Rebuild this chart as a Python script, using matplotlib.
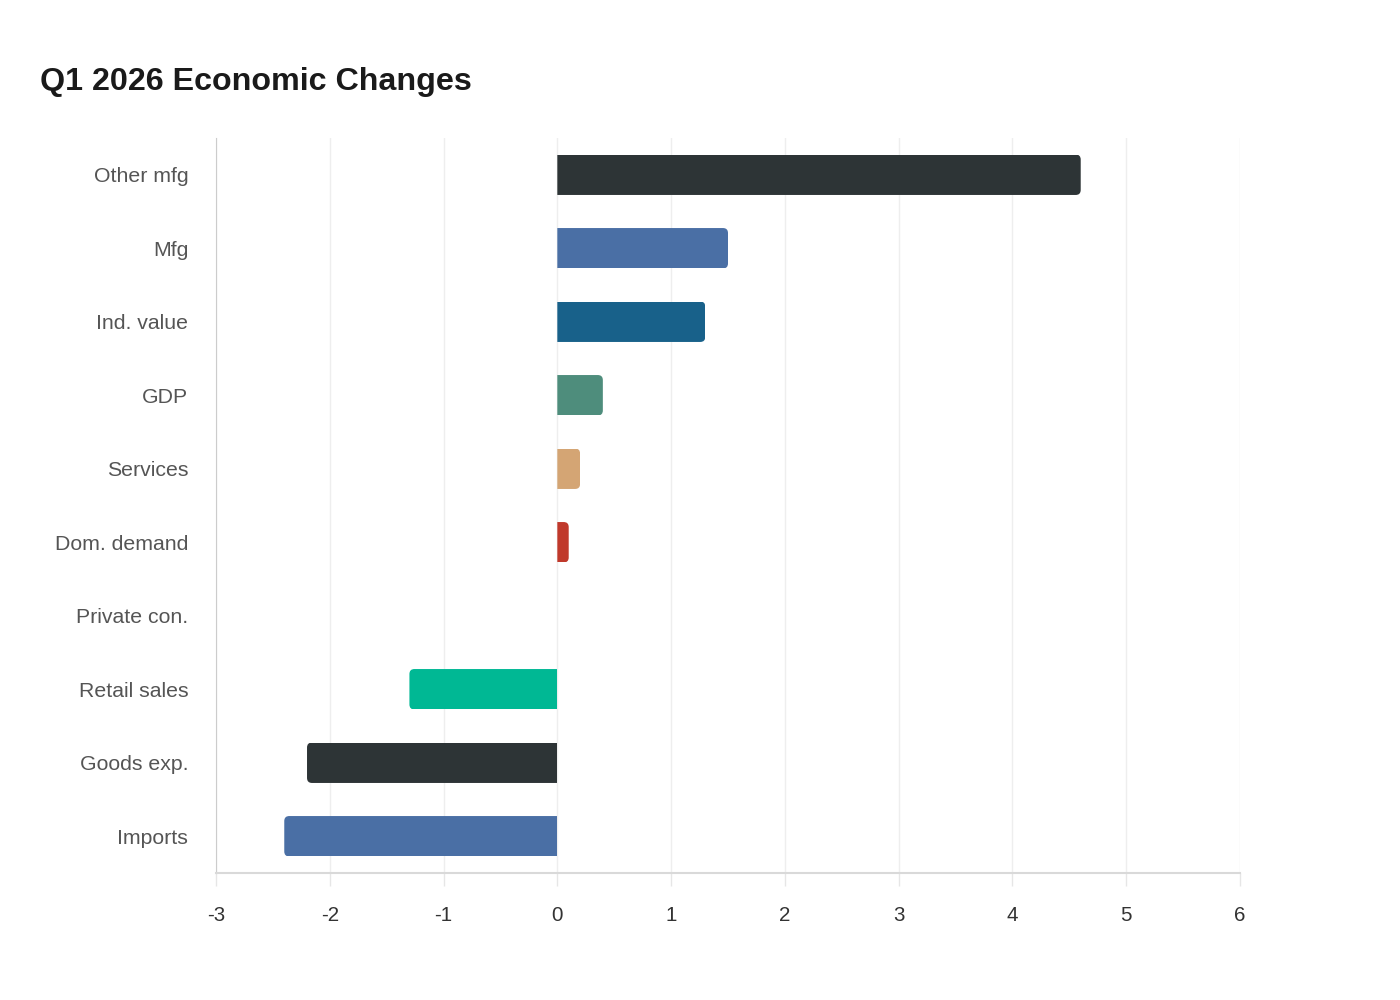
import matplotlib
matplotlib.use("Agg")
import matplotlib.pyplot as plt
from matplotlib.path import Path
from matplotlib.transforms import IdentityTransform

plt.rcParams['font.family'] = ['Liberation Sans', 'DejaVu Sans']

categories = ["Other mfg", "Mfg", "Ind. value", "GDP", "Services",
              "Dom. demand", "Private con.", "Retail sales", "Goods exp.", "Imports"]
values = [4.6, 1.5, 1.3, 0.4, 0.2, 0.1, 0.0, -1.3, -2.2, -2.4]
colors = ["#2d3436", "#4a6fa5", "#18618a", "#4e8d7c", "#d4a574",
          "#c0392b", "#6c5ce7", "#00b894", "#2d3436", "#4a6fa5"]
xticks = [-3, -2, -1, 0, 1, 2, 3, 4, 5, 6]
title = "Q1 2026 Economic Changes"

fig = plt.figure(figsize=(14, 10), dpi=100)
ax = fig.add_axes([216/1400, 1 - 873/1000, (1240-216)/1400, (873-138)/1000])

ypos = list(range(len(categories)))
bars = ax.barh(ypos, values, height=0.55, color=colors, zorder=3)
ax.set_ylim(len(categories) - 0.5, -0.5)
ax.set_xlim(xticks[0], xticks[-1])
ax.set_yticks(ypos)
ax.set_yticklabels(categories, fontsize=15.3, color="#555555")
ax.tick_params(axis='y', length=0, pad=20)
ax.set_xticks(xticks)
ax.set_xticklabels([str(t) for t in xticks], fontsize=14.8, color="#333333")
ax.tick_params(axis='x', length=9, width=1, color="#e6e6e6", pad=15)
ax.grid(axis='x', color="#eeeeee", linewidth=1, zorder=0)
for s in ["top", "right"]:
    ax.spines[s].set_visible(False)
ax.spines["left"].set_color("#cccccc")
ax.spines["bottom"].set_color("#d9d9d9")
ax.spines["bottom"].set_linewidth(1.5)

fig.text(40/1400, 1 - 82/1000, title, fontsize=23.2, fontweight="bold",
         color="#1a1a1a", ha="left", va="center")

fig.canvas.draw()
r = 5.0
for b, v in zip(bars, values):
    if v == 0:
        continue
    ext = b.get_window_extent()
    x0, x1, y0, y1 = ext.x0, ext.x1, ext.y0, ext.y1
    rr = min(r, abs(x1 - x0) / 2)
    if v > 0:
        verts = [(x0, y0), (x1 - rr, y0), (x1, y0), (x1, y0 + rr), (x1, y1 - rr),
                 (x1, y1), (x1 - rr, y1), (x0, y1), (x0, y0)]
    else:
        verts = [(x1, y0), (x0 + rr, y0), (x0, y0), (x0, y0 + rr), (x0, y1 - rr),
                 (x0, y1), (x0 + rr, y1), (x1, y1), (x1, y0)]
    codes = [Path.MOVETO, Path.LINETO, Path.CURVE3, Path.CURVE3, Path.LINETO,
             Path.CURVE3, Path.CURVE3, Path.LINETO, Path.CLOSEPOLY]
    b.set_clip_path(Path(verts, codes), IdentityTransform())

fig.savefig("out.png", dpi=100, facecolor="white")
